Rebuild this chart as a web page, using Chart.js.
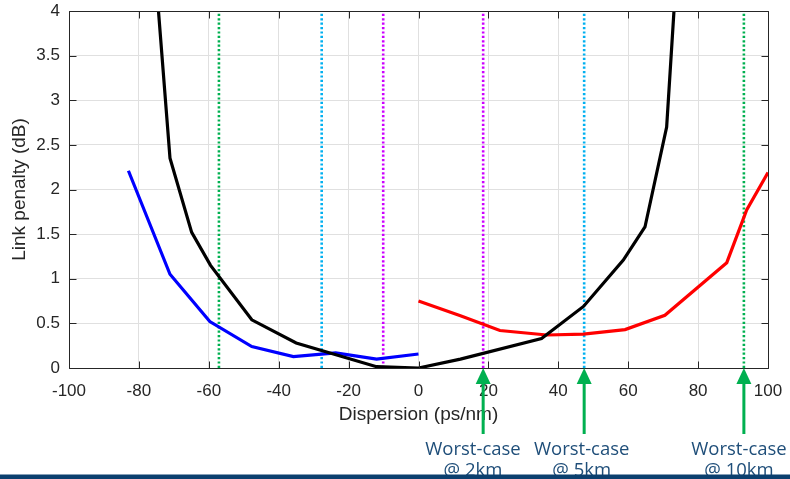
<!DOCTYPE html>
<html><head><meta charset="utf-8">
<script src="https://cdn.jsdelivr.net/npm/chart.js@4"></script>
<style>html,body{margin:0;padding:0;background:#fff}</style>
</head><body>
<canvas id="c" width="790" height="479"></canvas>
<script>
// ---- data ----
const blackX = [-77, -71.1, -64.9, -59.5, -47.7, -35, -12, 0, 12, 35.2, 47.2, 58.6, 64.8, 71, 75];
const blackY = [5.3, 2.35, 1.52, 1.15, 0.54, 0.28, 0.015, 0, 0.1, 0.33, 0.69, 1.21, 1.58, 2.70, 5.18];
const blueX  = [-83, -71.1, -59.7, -47.7, -35.8, -23.7, -12, 0];
const blueY  = [2.21, 1.05, 0.52, 0.24, 0.127, 0.17, 0.10, 0.157];
const redX   = [0, 12, 23.3, 36.7, 47.2, 59.1, 70.5, 88.2, 93.9, 100];
const redY   = [0.75, 0.585, 0.42, 0.37, 0.38, 0.43, 0.59, 1.18, 1.77, 2.19];
const markerX      = [-57.1, -27.7, -10.1, 18.5, 47.4, 93.1];
const markerColors = ['#00b050', '#00b0f0', '#cc00ff', '#cc00ff', '#00b0f0', '#00b050'];
const arrowX     = [18.5, 47.4, 93.1];
const noteX      = [15.6, 46.7, 91.7];
const noteLine1  = ['Worst-case', 'Worst-case', 'Worst-case'];
const noteLine2  = ['@ 2km', '@ 5km', '@ 10km'];
const xTitle = 'Dispersion (ps/nm)';
const yTitle = 'Link penalty (dB)';

const pts = (xs, ys) => xs.map((x, i) => ({x: x, y: ys[i]}));

const datasets = [
  {data: pts(blackX, blackY), borderColor: '#000000', borderWidth: 3.2},
  {data: pts(blueX, blueY), borderColor: '#0000ff', borderWidth: 3.2},
  {data: pts(redX, redY), borderColor: '#ff0000', borderWidth: 3.2}
];
markerX.forEach((v, i) => datasets.push({
  data: [{x: v, y: 0}, {x: v, y: 4}],
  borderColor: markerColors[i], borderWidth: 2.6, borderDash: [2.2, 2.2]
}));
datasets.forEach(d => { d.pointRadius = 0; d.fill = false; d.tension = 0; d.borderCapStyle = 'butt'; });

const FONT = '"Liberation Sans", Arial, Helvetica, sans-serif';
const TXT = '#262626';

const extras = {
  id: 'extras',
  afterDatasetsDraw(chart) {
    const ctx = chart.ctx, a = chart.chartArea;
    const xs = chart.scales.x, ys = chart.scales.y;
    ctx.save();
    // box + inward ticks
    ctx.strokeStyle = TXT; ctx.lineWidth = 1;
    const L = Math.round(a.left) + 0.5, R = Math.round(a.right) + 0.5, T = Math.round(a.top) + 0.5, B = Math.round(a.bottom) + 0.5;
    ctx.beginPath(); ctx.rect(L, T, R - L, B - T); ctx.stroke();
    const tl = 7;
    ctx.beginPath();
    xs.ticks.forEach(t => {
      const p = Math.round(xs.getPixelForValue(t.value)) + 0.5;
      ctx.moveTo(p, B); ctx.lineTo(p, B - tl);
      ctx.moveTo(p, T); ctx.lineTo(p, T + tl);
    });
    ys.ticks.forEach(t => {
      const p = Math.round(ys.getPixelForValue(t.value)) + 0.5;
      ctx.moveTo(L, p); ctx.lineTo(L + tl, p);
      ctx.moveTo(R, p); ctx.lineTo(R - tl, p);
    });
    ctx.stroke();
    // arrows
    const tipY = ys.getPixelForValue(0);
    ctx.fillStyle = '#00b050';
    arrowX.forEach(v => {
      const p = xs.getPixelForValue(v);
      ctx.beginPath();
      ctx.moveTo(p, tipY); ctx.lineTo(p - 7.5, tipY + 16); ctx.lineTo(p + 7.5, tipY + 16); ctx.closePath();
      ctx.fill();
      ctx.fillRect(p - 1.5, tipY + 15, 3, 51);
    });
    // notes
    ctx.fillStyle = '#1f4e79';
    ctx.font = '18.5px "Open Sans", "Noto Sans", sans-serif';
    ctx.textAlign = 'center'; ctx.textBaseline = 'alphabetic';
    noteX.forEach((v, i) => {
      const p = xs.getPixelForValue(v);
      ctx.fillText(noteLine1[i], p, 455);
      ctx.fillText(noteLine2[i], p, 476);
    });
    // bottom band
    ctx.fillStyle = '#0b3f6e';
    ctx.fillRect(0, 474.5, chart.width, chart.height - 474.5);
    ctx.restore();
  }
};

new Chart(document.getElementById('c'), {
  type: 'line',
  data: {datasets: datasets},
  options: {
    responsive: false, animation: false, devicePixelRatio: 1,
    layout: {padding: {left: 0, right: 22, top: 11, bottom: 0}},
    plugins: {legend: {display: false}, tooltip: {enabled: false}},
    scales: {
      x: {
        type: 'linear', min: -100, max: 100,
        ticks: {stepSize: 20, color: TXT, font: {family: FONT, size: 17}, padding: 13, maxRotation: 0,
                callback: v => String(v)},
        grid: {color: '#e0e0e0', lineWidth: 1, drawTicks: false},
        border: {display: false},
        title: {display: true, text: xTitle, color: TXT, font: {family: FONT, size: 19}, padding: {top: 0, bottom: 53}},
        afterFit(s) { s.height = 111; s.paddingLeft = 0; s.paddingRight = 0; }
      },
      y: {
        type: 'linear', min: 0, max: 4,
        ticks: {stepSize: 0.5, color: TXT, font: {family: FONT, size: 17}, padding: 9,
                callback: v => String(v)},
        grid: {color: '#e0e0e0', lineWidth: 1, drawTicks: false},
        border: {display: false},
        title: {display: true, text: yTitle, color: TXT, font: {family: FONT, size: 19}, padding: {top: 8, bottom: 0}},
        afterFit(s) { s.width = 69; s.paddingTop = 0; s.paddingBottom = 0; }
      }
    }
  },
  plugins: [extras]
});
</script>
</body></html>
